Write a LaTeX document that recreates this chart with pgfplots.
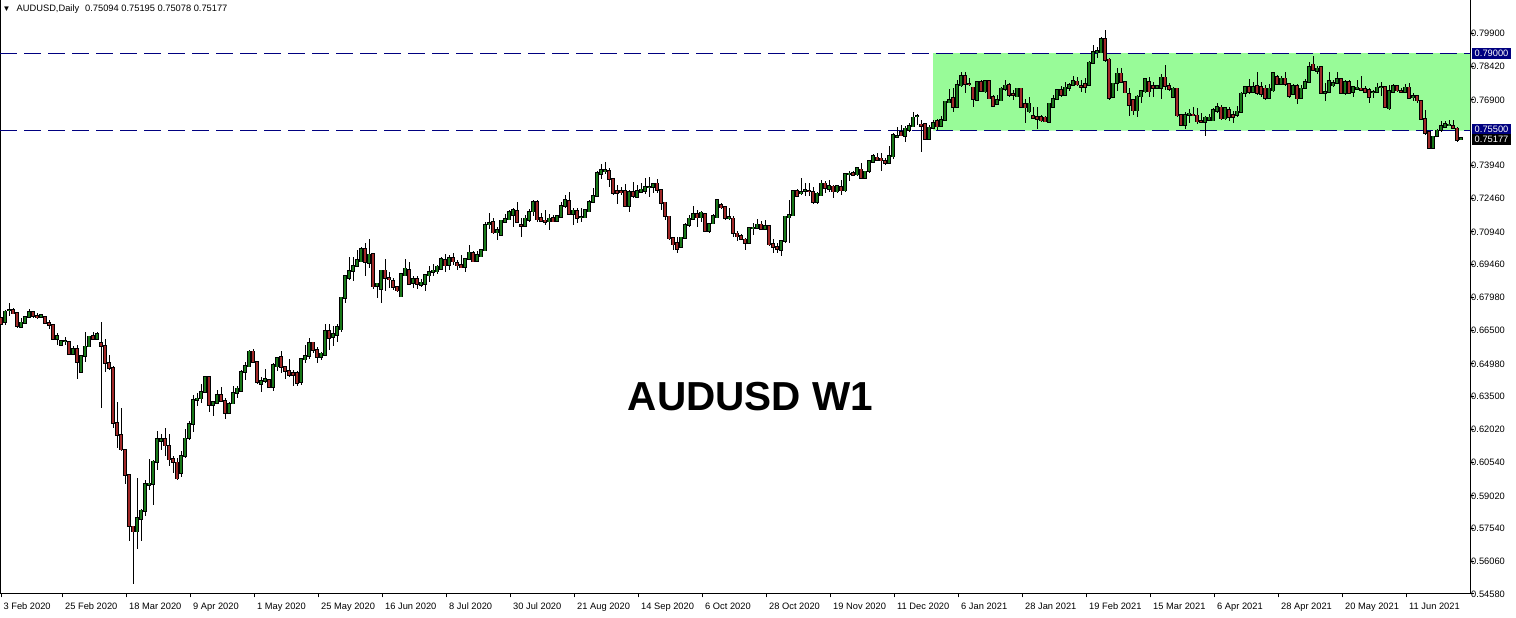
\documentclass[border=0pt]{standalone}
\usepackage{fontspec}
\setmainfont{Liberation Sans}
\usepackage{pgfplots}
\pgfplotsset{compat=1.18}
\usepackage{pgfplotstable}
\definecolor{bull}{RGB}{24,120,24}
\definecolor{bear}{RGB}{160,40,40}
\definecolor{zone}{RGB}{152,251,152}
\definecolor{navyl}{RGB}{0,0,128}
\newcommand\tickfont{\fontsize{9.3}{11}\selectfont}
\pgfplotstableread{
i o h l c d
0 0.6704 0.6708 0.6674 0.6677 0
1 0.6684 0.6742 0.6674 0.6734 1
2 0.6739 0.6772 0.6715 0.6740 1
3 0.6742 0.6749 0.6722 0.6724 0
4 0.6728 0.6731 0.6657 0.6666 0
5 0.6663 0.6704 0.6662 0.6684 1
6 0.6681 0.6712 0.6677 0.6709 1
7 0.6707 0.6745 0.6706 0.6731 1
8 0.6731 0.6737 0.6704 0.6712 0
9 0.6715 0.6727 0.6701 0.6707 0
10 0.6709 0.6722 0.6707 0.6719 1
11 0.6709 0.6710 0.6680 0.6681 0
12 0.6683 0.6697 0.6656 0.6671 0
13 0.6674 0.6677 0.6605 0.6608 0
14 0.6608 0.6636 0.6581 0.6623 1
15 0.6582 0.6605 0.6581 0.6600 1
16 0.6599 0.6618 0.6581 0.6602 1
17 0.6597 0.6600 0.6536 0.6540 0
18 0.6540 0.6578 0.6536 0.6566 1
19 0.6566 0.6582 0.6429 0.6505 0
20 0.6460 0.6533 0.6459 0.6533 1
21 0.6533 0.6641 0.6505 0.6576 1
22 0.6575 0.6624 0.6572 0.6621 1
23 0.6624 0.6642 0.6606 0.6609 0
24 0.6608 0.6641 0.6606 0.6633 1
25 0.6593 0.6684 0.6298 0.6576 0
26 0.6578 0.6609 0.6459 0.6501 0
27 0.6501 0.6537 0.6471 0.6477 0
28 0.6480 0.6489 0.6208 0.6230 0
29 0.6230 0.6324 0.6116 0.6176 0
30 0.6176 0.6299 0.6104 0.6109 0
31 0.6109 0.6111 0.5954 0.5996 0
32 0.5996 0.5997 0.5696 0.5764 0
33 0.5764 0.5764 0.5504 0.5739 0
34 0.5739 0.5982 0.5663 0.5802 1
35 0.5797 0.5842 0.5696 0.5836 1
36 0.5832 0.5975 0.5809 0.5955 1
37 0.5949 0.6068 0.5927 0.5957 1
38 0.5955 0.6065 0.5862 0.6057 1
39 0.6053 0.6193 0.6017 0.6158 1
40 0.6148 0.6182 0.6110 0.6158 1
41 0.6158 0.6208 0.6080 0.6128 0
42 0.6128 0.6182 0.6035 0.6065 0
43 0.6069 0.6080 0.6005 0.6053 0
44 0.6053 0.6072 0.5975 0.5979 0
45 0.6003 0.6102 0.5987 0.6081 1
46 0.6080 0.6205 0.6071 0.6161 1
47 0.6161 0.6241 0.6155 0.6226 1
48 0.6226 0.6358 0.6190 0.6334 1
49 0.6334 0.6366 0.6305 0.6342 1
50 0.6340 0.6406 0.6321 0.6370 1
51 0.6370 0.6444 0.6366 0.6439 1
52 0.6439 0.6439 0.6278 0.6310 0
53 0.6310 0.6331 0.6260 0.6327 1
54 0.6321 0.6381 0.6318 0.6357 1
55 0.6357 0.6391 0.6328 0.6330 0
56 0.6330 0.6343 0.6248 0.6275 0
57 0.6275 0.6324 0.6269 0.6316 1
58 0.6317 0.6396 0.6316 0.6366 1
59 0.6366 0.6396 0.6343 0.6387 1
60 0.6373 0.6471 0.6372 0.6460 1
61 0.6459 0.6505 0.6426 0.6489 1
62 0.6485 0.6561 0.6481 0.6554 1
63 0.6554 0.6565 0.6501 0.6505 0
64 0.6505 0.6508 0.6406 0.6414 0
65 0.6406 0.6440 0.6368 0.6422 1
66 0.6418 0.6475 0.6410 0.6430 1
67 0.6425 0.6428 0.6386 0.6391 0
68 0.6391 0.6500 0.6373 0.6493 1
69 0.6485 0.6526 0.6463 0.6523 1
70 0.6528 0.6556 0.6458 0.6482 0
71 0.6484 0.6489 0.6428 0.6463 0
72 0.6466 0.6520 0.6440 0.6445 0
73 0.6457 0.6470 0.6395 0.6445 0
74 0.6457 0.6467 0.6395 0.6410 0
75 0.6414 0.6523 0.6403 0.6520 1
76 0.6516 0.6583 0.6503 0.6534 1
77 0.6531 0.6616 0.6520 0.6591 1
78 0.6594 0.6595 0.6546 0.6558 0
79 0.6561 0.6573 0.6500 0.6528 0
80 0.6528 0.6550 0.6516 0.6544 1
81 0.6535 0.6676 0.6531 0.6646 1
82 0.6646 0.6678 0.6561 0.6612 0
83 0.6618 0.6666 0.6579 0.6634 1
84 0.6628 0.6678 0.6598 0.6664 1
85 0.6651 0.6801 0.6643 0.6797 1
86 0.6794 0.6899 0.6771 0.6895 1
87 0.6884 0.6982 0.6877 0.6917 1
88 0.6916 0.6982 0.6873 0.6941 1
89 0.6937 0.7012 0.6934 0.6967 1
90 0.6959 0.7027 0.6956 0.7016 1
91 0.7016 0.7042 0.6892 0.6955 0
92 0.6952 0.7061 0.6928 0.6992 1
93 0.6994 0.6997 0.6834 0.6846 0
94 0.6849 0.6864 0.6794 0.6861 1
95 0.6834 0.6922 0.6771 0.6919 1
96 0.6919 0.6971 0.6828 0.6884 0
97 0.6885 0.6914 0.6839 0.6879 0
98 0.6872 0.6884 0.6831 0.6843 0
99 0.6846 0.6849 0.6822 0.6828 0
100 0.6801 0.6907 0.6801 0.6904 1
101 0.6896 0.6971 0.6894 0.6928 1
102 0.6922 0.6956 0.6855 0.6858 0
103 0.6861 0.6892 0.6840 0.6881 1
104 0.6881 0.6895 0.6834 0.6858 0
105 0.6853 0.6879 0.6843 0.6865 1
106 0.6857 0.6902 0.6828 0.6899 1
107 0.6896 0.6940 0.6867 0.6913 1
108 0.6910 0.6950 0.6895 0.6919 1
109 0.6914 0.6944 0.6904 0.6937 1
110 0.6925 0.6979 0.6922 0.6971 1
111 0.6967 0.6994 0.6914 0.6941 0
112 0.6943 0.6991 0.6922 0.6976 1
113 0.6976 0.6997 0.6944 0.6959 0
114 0.6953 0.6967 0.6919 0.6941 0
115 0.6944 0.6989 0.6929 0.6932 0
116 0.6934 0.6977 0.6910 0.6971 1
117 0.6970 0.7034 0.6967 0.7001 1
118 0.6998 0.7007 0.6955 0.6959 0
119 0.6962 0.7009 0.6959 0.6989 1
120 0.6982 0.7015 0.6979 0.7012 1
121 0.7009 0.7140 0.7005 0.7124 1
122 0.7125 0.7178 0.7106 0.7135 1
123 0.7139 0.7155 0.7084 0.7090 0
124 0.7090 0.7117 0.7057 0.7102 1
125 0.7077 0.7148 0.7075 0.7145 1
126 0.7136 0.7175 0.7133 0.7151 1
127 0.7148 0.7193 0.7145 0.7185 1
128 0.7170 0.7200 0.7114 0.7193 1
129 0.7188 0.7226 0.7133 0.7136 0
130 0.7125 0.7155 0.7072 0.7119 0
131 0.7118 0.7170 0.7115 0.7155 1
132 0.7145 0.7196 0.7140 0.7185 1
133 0.7185 0.7238 0.7163 0.7229 1
134 0.7229 0.7235 0.7140 0.7148 0
135 0.7157 0.7178 0.7136 0.7143 0
136 0.7145 0.7190 0.7125 0.7137 0
137 0.7139 0.7175 0.7102 0.7155 1
138 0.7158 0.7170 0.7136 0.7140 0
139 0.7142 0.7170 0.7139 0.7166 1
140 0.7160 0.7226 0.7157 0.7211 1
141 0.7208 0.7260 0.7203 0.7238 1
142 0.7233 0.7272 0.7170 0.7173 0
143 0.7173 0.7200 0.7125 0.7190 1
144 0.7187 0.7200 0.7133 0.7154 0
145 0.7157 0.7200 0.7140 0.7161 1
146 0.7158 0.7195 0.7154 0.7193 1
147 0.7185 0.7238 0.7184 0.7229 1
148 0.7227 0.7290 0.7223 0.7256 1
149 0.7253 0.7366 0.7250 0.7361 1
150 0.7354 0.7400 0.7333 0.7373 1
151 0.7366 0.7408 0.7355 0.7373 1
152 0.7369 0.7381 0.7298 0.7331 0
153 0.7333 0.7336 0.7260 0.7268 0
154 0.7280 0.7305 0.7218 0.7268 0
155 0.7278 0.7298 0.7260 0.7270 0
156 0.7278 0.7308 0.7205 0.7208 0
157 0.7208 0.7283 0.7185 0.7273 1
158 0.7273 0.7318 0.7244 0.7253 0
159 0.7250 0.7305 0.7245 0.7280 1
160 0.7273 0.7316 0.7268 0.7285 1
161 0.7276 0.7336 0.7263 0.7298 1
162 0.7295 0.7340 0.7250 0.7298 1
163 0.7295 0.7313 0.7268 0.7309 1
164 0.7312 0.7331 0.7268 0.7283 0
165 0.7283 0.7286 0.7193 0.7223 0
166 0.7226 0.7230 0.7148 0.7163 0
167 0.7163 0.7166 0.7057 0.7062 0
168 0.7065 0.7072 0.7012 0.7035 0
169 0.7045 0.7072 0.6997 0.7015 0
170 0.7023 0.7072 0.7020 0.7068 1
171 0.7065 0.7133 0.7060 0.7125 1
172 0.7122 0.7170 0.7117 0.7155 1
173 0.7151 0.7208 0.7148 0.7175 1
174 0.7175 0.7190 0.7117 0.7158 0
175 0.7157 0.7188 0.7140 0.7181 1
176 0.7175 0.7178 0.7093 0.7095 0
177 0.7095 0.7133 0.7090 0.7130 1
178 0.7130 0.7175 0.7127 0.7166 1
179 0.7158 0.7238 0.7154 0.7238 1
180 0.7215 0.7223 0.7197 0.7203 0
181 0.7205 0.7208 0.7148 0.7154 0
182 0.7155 0.7199 0.7145 0.7160 1
183 0.7155 0.7163 0.7072 0.7086 0
184 0.7087 0.7095 0.7050 0.7072 0
185 0.7075 0.7083 0.7057 0.7060 0
186 0.7060 0.7065 0.7012 0.7042 0
187 0.7042 0.7114 0.7039 0.7111 1
188 0.7109 0.7133 0.7080 0.7113 1
189 0.7110 0.7151 0.7106 0.7128 1
190 0.7128 0.7143 0.7103 0.7106 0
191 0.7106 0.7148 0.7103 0.7121 1
192 0.7121 0.7125 0.7030 0.7035 0
193 0.7038 0.7060 0.7000 0.7023 0
194 0.7027 0.7042 0.6997 0.7015 0
195 0.7012 0.7057 0.6985 0.7053 1
196 0.7050 0.7166 0.7045 0.7163 1
197 0.7158 0.7238 0.7042 0.7170 1
198 0.7166 0.7283 0.7163 0.7278 1
199 0.7278 0.7286 0.7250 0.7253 0
200 0.7265 0.7336 0.7260 0.7274 1
201 0.7277 0.7313 0.7253 0.7284 1
202 0.7280 0.7313 0.7253 0.7275 0
203 0.7274 0.7295 0.7220 0.7227 0
204 0.7227 0.7275 0.7218 0.7268 1
205 0.7257 0.7328 0.7256 0.7313 1
206 0.7313 0.7325 0.7268 0.7290 0
207 0.7287 0.7328 0.7274 0.7301 1
208 0.7299 0.7305 0.7248 0.7275 0
209 0.7275 0.7304 0.7268 0.7301 1
210 0.7298 0.7328 0.7260 0.7280 0
211 0.7280 0.7361 0.7275 0.7355 1
212 0.7352 0.7370 0.7321 0.7358 1
213 0.7361 0.7370 0.7346 0.7348 0
214 0.7351 0.7388 0.7346 0.7381 1
215 0.7376 0.7403 0.7331 0.7336 0
216 0.7336 0.7369 0.7333 0.7366 1
217 0.7366 0.7418 0.7361 0.7414 1
218 0.7409 0.7445 0.7403 0.7436 1
219 0.7430 0.7448 0.7415 0.7418 0
220 0.7426 0.7451 0.7366 0.7414 0
221 0.7415 0.7426 0.7396 0.7403 0
222 0.7403 0.7481 0.7399 0.7436 1
223 0.7433 0.7539 0.7421 0.7531 1
224 0.7521 0.7569 0.7516 0.7527 1
225 0.7546 0.7576 0.7524 0.7527 0
226 0.7524 0.7572 0.7501 0.7561 1
227 0.7551 0.7587 0.7546 0.7573 1
228 0.7569 0.7633 0.7566 0.7611 1
229 0.7614 0.7626 0.7576 0.7618 1
230 0.7579 0.7599 0.7456 0.7572 0
231 0.7581 0.7587 0.7509 0.7513 0
232 0.7513 0.7576 0.7509 0.7566 1
233 0.7561 0.7599 0.7557 0.7587 1
234 0.7594 0.7602 0.7551 0.7569 0
235 0.7572 0.7617 0.7569 0.7599 1
236 0.7599 0.7685 0.7594 0.7682 1
237 0.7677 0.7737 0.7674 0.7689 1
238 0.7697 0.7742 0.7636 0.7656 0
239 0.7656 0.7779 0.7651 0.7757 1
240 0.7754 0.7817 0.7749 0.7797 1
241 0.7797 0.7817 0.7722 0.7761 0
242 0.7761 0.7790 0.7752 0.7758 0
243 0.7746 0.7749 0.7659 0.7692 0
244 0.7689 0.7773 0.7686 0.7770 1
245 0.7770 0.7779 0.7727 0.7730 0
246 0.7727 0.7778 0.7722 0.7775 1
247 0.7775 0.7779 0.7692 0.7694 0
248 0.7704 0.7712 0.7656 0.7662 0
249 0.7671 0.7712 0.7666 0.7689 1
250 0.7686 0.7746 0.7682 0.7742 1
251 0.7739 0.7779 0.7731 0.7755 1
252 0.7757 0.7764 0.7704 0.7712 0
253 0.7717 0.7734 0.7689 0.7712 0
254 0.7704 0.7745 0.7701 0.7742 1
255 0.7742 0.7745 0.7654 0.7656 0
256 0.7671 0.7692 0.7587 0.7654 0
257 0.7636 0.7704 0.7632 0.7674 1
258 0.7617 0.7659 0.7602 0.7606 0
259 0.7612 0.7656 0.7557 0.7602 0
260 0.7614 0.7621 0.7591 0.7596 0
261 0.7611 0.7618 0.7590 0.7591 0
262 0.7588 0.7677 0.7584 0.7674 1
263 0.7656 0.7712 0.7651 0.7694 1
264 0.7692 0.7737 0.7689 0.7734 1
265 0.7734 0.7752 0.7704 0.7712 0
266 0.7712 0.7772 0.7707 0.7746 1
267 0.7742 0.7764 0.7731 0.7757 1
268 0.7757 0.7797 0.7754 0.7775 1
269 0.7773 0.7791 0.7752 0.7758 0
270 0.7754 0.7779 0.7727 0.7746 0
271 0.7761 0.7787 0.7722 0.7746 0
272 0.7757 0.7867 0.7752 0.7859 1
273 0.7854 0.7937 0.7851 0.7907 1
274 0.7904 0.7930 0.7877 0.7910 1
275 0.7903 0.7972 0.7900 0.7964 1
276 0.7964 0.8005 0.7862 0.7869 0
277 0.7873 0.7877 0.7689 0.7697 0
278 0.7701 0.7767 0.7697 0.7764 1
279 0.7764 0.7832 0.7731 0.7809 1
280 0.7809 0.7832 0.7764 0.7769 0
281 0.7770 0.7775 0.7719 0.7722 0
282 0.7716 0.7742 0.7617 0.7666 0
283 0.7689 0.7692 0.7621 0.7641 0
284 0.7641 0.7712 0.7614 0.7706 1
285 0.7704 0.7734 0.7677 0.7730 1
286 0.7727 0.7787 0.7722 0.7784 1
287 0.7772 0.7794 0.7704 0.7727 0
288 0.7754 0.7772 0.7704 0.7742 0
289 0.7742 0.7757 0.7737 0.7752 1
290 0.7742 0.7806 0.7692 0.7791 1
291 0.7791 0.7847 0.7734 0.7752 0
292 0.7752 0.7764 0.7731 0.7739 0
293 0.7701 0.7749 0.7697 0.7742 1
294 0.7742 0.7745 0.7611 0.7618 0
295 0.7621 0.7624 0.7572 0.7576 0
296 0.7575 0.7636 0.7557 0.7621 1
297 0.7621 0.7647 0.7584 0.7629 1
298 0.7624 0.7656 0.7617 0.7620 0
299 0.7620 0.7651 0.7579 0.7591 0
300 0.7596 0.7632 0.7584 0.7588 0
301 0.7588 0.7617 0.7524 0.7611 1
302 0.7599 0.7626 0.7592 0.7611 1
303 0.7596 0.7652 0.7592 0.7644 1
304 0.7637 0.7674 0.7632 0.7659 1
305 0.7656 0.7667 0.7599 0.7604 0
306 0.7604 0.7659 0.7599 0.7652 1
307 0.7644 0.7656 0.7592 0.7611 0
308 0.7622 0.7637 0.7584 0.7611 0
309 0.7619 0.7662 0.7611 0.7637 1
310 0.7634 0.7727 0.7632 0.7719 1
311 0.7719 0.7754 0.7701 0.7748 1
312 0.7748 0.7783 0.7716 0.7724 0
313 0.7724 0.7772 0.7719 0.7749 1
314 0.7752 0.7813 0.7712 0.7719 0
315 0.7749 0.7772 0.7704 0.7716 0
316 0.7742 0.7757 0.7689 0.7697 0
317 0.7697 0.7760 0.7692 0.7742 1
318 0.7731 0.7813 0.7727 0.7810 1
319 0.7792 0.7802 0.7757 0.7760 0
320 0.7760 0.7798 0.7757 0.7787 1
321 0.7787 0.7817 0.7754 0.7760 0
322 0.7761 0.7764 0.7697 0.7707 0
323 0.7715 0.7760 0.7712 0.7752 1
324 0.7752 0.7760 0.7671 0.7695 0
325 0.7697 0.7757 0.7694 0.7742 1
326 0.7742 0.7783 0.7737 0.7772 1
327 0.7769 0.7862 0.7764 0.7837 1
328 0.7850 0.7888 0.7820 0.7822 0
329 0.7820 0.7843 0.7807 0.7832 1
330 0.7837 0.7840 0.7715 0.7719 0
331 0.7719 0.7764 0.7682 0.7727 1
332 0.7724 0.7814 0.7719 0.7775 1
333 0.7754 0.7779 0.7749 0.7767 1
334 0.7764 0.7813 0.7761 0.7784 1
335 0.7784 0.7787 0.7716 0.7719 0
336 0.7719 0.7777 0.7712 0.7772 1
337 0.7772 0.7777 0.7716 0.7719 0
338 0.7724 0.7754 0.7704 0.7749 1
339 0.7739 0.7779 0.7734 0.7746 1
340 0.7742 0.7795 0.7731 0.7734 0
341 0.7739 0.7752 0.7719 0.7724 0
342 0.7734 0.7742 0.7674 0.7701 0
343 0.7722 0.7734 0.7697 0.7727 1
344 0.7724 0.7767 0.7719 0.7746 1
345 0.7746 0.7769 0.7707 0.7749 1
346 0.7749 0.7754 0.7652 0.7656 0
347 0.7649 0.7757 0.7644 0.7731 1
348 0.7724 0.7761 0.7719 0.7752 1
349 0.7752 0.7757 0.7727 0.7731 0
350 0.7731 0.7742 0.7719 0.7724 0
351 0.7724 0.7760 0.7719 0.7746 1
352 0.7746 0.7767 0.7692 0.7697 0
353 0.7701 0.7719 0.7685 0.7707 1
354 0.7707 0.7712 0.7674 0.7685 0
355 0.7685 0.7689 0.7599 0.7602 0
356 0.7604 0.7644 0.7531 0.7539 0
357 0.7546 0.7549 0.7468 0.7471 0
358 0.7471 0.7527 0.7468 0.7524 1
359 0.7524 0.7557 0.7521 0.7551 1
360 0.7551 0.7596 0.7546 0.7572 1
361 0.7566 0.7592 0.7561 0.7581 1
362 0.7576 0.7599 0.7573 0.7579 1
363 0.7572 0.7599 0.7557 0.7561 0
364 0.7561 0.7566 0.7501 0.7506 0
365 0.75094 0.75195 0.75078 0.75177 1
}\candles
\begin{document}
\begin{tikzpicture}[x=1pt,y=1pt]
\fill[white] (0,0) rectangle (1516,618);
\useasboundingbox (0,0) rectangle (1516,618);
\begin{axis}[
  at={(0pt,24pt)}, anchor=south west,
  scale only axis, width=1470pt, height=594pt,
  xmin=-0.25, xmax=367.25, ymin=0.5458, ymax=0.81403,
  axis line style={black, line width=1pt},
  tick style={black, line width=1pt},
  tick align=outside, major tick length=3.5pt,
  ytick pos=right, yticklabel pos=right, xtick pos=bottom,
  ytick={0.5458,0.5606,0.5754,0.5902,0.6054,0.6202,0.635,0.6498,0.665,0.6798,0.6946,0.7094,0.7246,0.7394,0.769,0.7842,0.799},
  yticklabels={0.54580,0.56060,0.57540,0.59020,0.60540,0.62020,0.63500,0.64980,0.66500,0.67980,0.69460,0.70940,0.72460,0.73940,0.76900,0.78420,0.79900},
  xtick={0,15.4,31.4,47.4,63.4,79.4,95.4,111.4,127.4,143.4,159.4,175.4,191.4,207.4,223.4,239.4,255.4,271.4,287.4,303.4,319.4,335.4,351.4},
  xticklabels={3 Feb 2020,25 Feb 2020,18 Mar 2020,9 Apr 2020,1 May 2020,25 May 2020,16 Jun 2020,8 Jul 2020,30 Jul 2020,21 Aug 2020,14 Sep 2020,6 Oct 2020,28 Oct 2020,19 Nov 2020,11 Dec 2020,6 Jan 2021,28 Jan 2021,19 Feb 2021,15 Mar 2021,6 Apr 2021,28 Apr 2021,20 May 2021,11 Jun 2021},
  yticklabel style={font=\tickfont, anchor=west, inner sep=0pt, text height=6.7pt, text depth=0pt, xshift=-2.5pt},
  xticklabel style={font=\tickfont, anchor=north west, inner sep=0pt, text height=6.7pt, text depth=0pt, xshift=2.4pt, yshift=-5pt},
]
\addplot [fill=zone, draw=none, forget plot] coordinates {(233,0.755) (367.25,0.755) (367.25,0.79) (233,0.79) (233,0.755)};
\addplot [navyl, line width=1pt, dash pattern=on 17pt off 7pt, forget plot] coordinates {(-0.25,0.79) (367.25,0.79)};
\addplot [navyl, line width=1pt, dash pattern=on 17pt off 7pt, forget plot] coordinates {(-0.25,0.755) (367.25,0.755)};
% wicks
\addplot [draw=none, mark=none, forget plot,
  error bars/.cd, y dir=both, y explicit, error mark=none,
  error bar style={draw=black, line width=1pt}]
  table [x=i, y expr={0.5*(\thisrow{h}+\thisrow{l})}, y error expr={0.5*(\thisrow{h}-\thisrow{l})}] {\candles};
% body outlines
\addplot [draw=none, mark=none, forget plot,
  error bars/.cd, y dir=both, y explicit, error mark=none,
  error bar style={draw=black, line width=3.4pt}]
  table [x=i, y expr={0.5*(\thisrow{o}+\thisrow{c})}, y error expr={0.5*abs(\thisrow{c}-\thisrow{o})+0.0003}] {\candles};
% bull bodies (bear rows get zero length)
\addplot [draw=none, mark=none, forget plot,
  error bars/.cd, y dir=both, y explicit, error mark=none,
  error bar style={draw=bull, line width=1.4pt}]
  table [x=i, y expr={0.5*(\thisrow{o}+\thisrow{c})}, y error expr={\thisrow{d}*0.5*abs(\thisrow{c}-\thisrow{o})}] {\candles};
% bear bodies (bull rows get zero length)
\addplot [draw=none, mark=none, forget plot,
  error bars/.cd, y dir=both, y explicit, error mark=none,
  error bar style={draw=bear, line width=1.4pt}]
  table [x=i, y expr={0.5*(\thisrow{o}+\thisrow{c})}, y error expr={(1-\thisrow{d})*0.5*abs(\thisrow{c}-\thisrow{o})}] {\candles};
\coordinate (p790) at (axis cs:367.25,0.79);
\coordinate (p755) at (axis cs:367.25,0.755);
\end{axis}
\node[fill=navyl, text=white, font=\tickfont, anchor=west, inner xsep=3pt, inner ysep=2pt, text height=6.7pt, text depth=0pt] at ([xshift=1.5pt]p790) {0.79000};
\node[fill=navyl, text=white, font=\tickfont, anchor=west, inner xsep=3pt, inner ysep=2pt, text height=6.7pt, text depth=0pt] at ([xshift=1.5pt, yshift=1.7pt]p755) {0.75500};
\node[fill=black, text=white, font=\tickfont, anchor=west, inner xsep=3pt, inner ysep=2pt, text height=6.7pt, text depth=0pt] at ([xshift=1.5pt, yshift=-8.6pt]p755) {0.75177};
\node[font=\fontsize{8}{9}\selectfont, inner sep=0pt] at (6.5,609) {▼};
\node[font=\tickfont, anchor=west, inner sep=0pt] at (16.5,609) {AUDUSD,Daily\hspace{6pt}0.75094 0.75195 0.75078 0.75177};
\node[font=\fontsize{40.5}{48}\selectfont\bfseries, inner sep=0pt] at (750.5,221.5) {AUDUSD W1};
\end{tikzpicture}
\end{document}
